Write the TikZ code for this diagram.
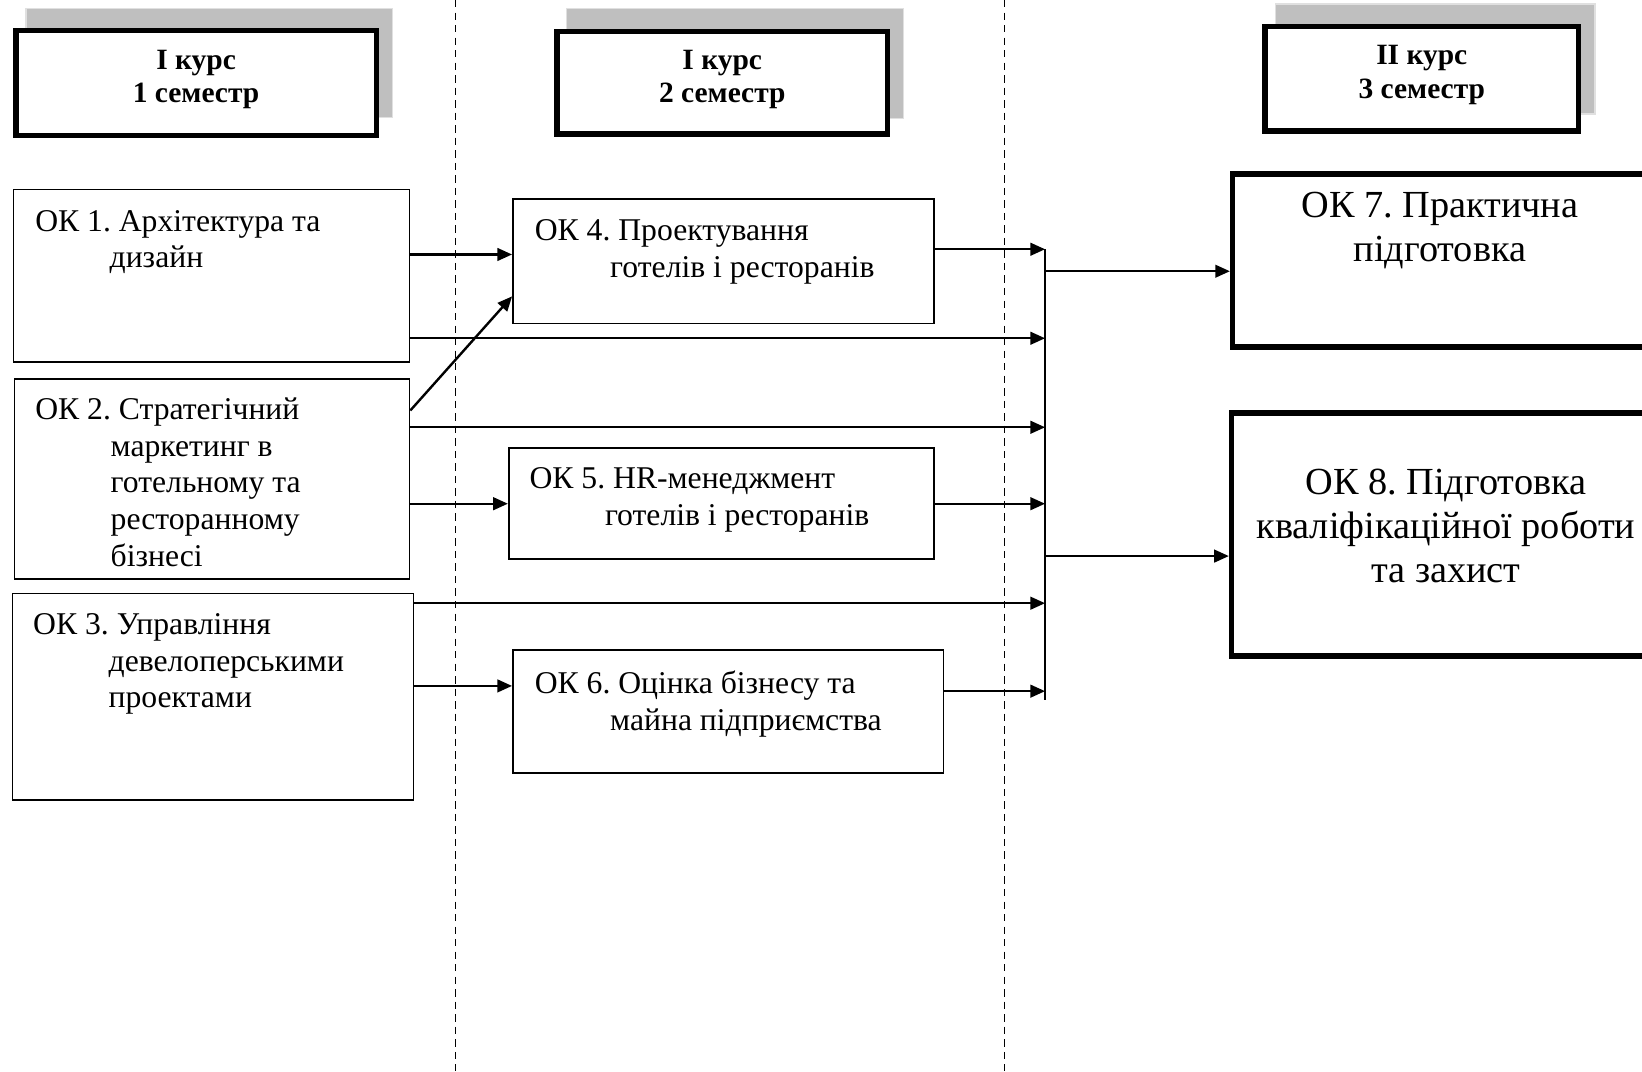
\documentclass[tikz,border=0pt]{standalone}
\usepackage{fontspec}
\setmainfont{Liberation Serif}
\usetikzlibrary{arrows.meta}
\frenchspacing
\begin{document}
\begin{tikzpicture}[x=0.01cm,y=-0.01cm,
  shade/.style={fill=black!25,draw=black!12,line width=0.4pt},
  head/.style={draw,line width=1.5pt,fill=white,inner sep=0pt,anchor=north west,align=center,text depth=3.6pt,font=\fontsize{8}{9.1}\selectfont\bfseries},
  okbox/.style={draw,line width=0.45pt,inner sep=0pt,anchor=north west},
  bigbox/.style={draw,line width=1.5pt,inner sep=0pt,anchor=north west,align=center,text depth=4.6pt,font=\fontsize{10.4}{11.9}\selectfont},
  oktext/.style={anchor=north west,align=left,inner sep=0pt,font=\fontsize{8.6}{10}\selectfont},
  arr/.style={line width=0.65pt,-{Triangle[length=0.14cm,width=0.12cm]}},
  sep/.style={line width=0.35pt,dash pattern=on 2pt off 1.4pt}]
\clip (0,0) rectangle (1568,1023);
\fill[white] (0,0) rectangle (1568,1023);
\draw[sep] (435,0) -- (435,1023);
\draw[sep] (959,0) -- (959,1023);
\draw[shade] (25,8) rectangle (375,112);
\draw[shade] (541,8) rectangle (863,113);
\draw[shade] (1218,4) rectangle (1523,109);
\node[head,minimum width=3.44cm,minimum height=1.0cm] (h1) at (12.5,26.5) {І курс\\1 семестр};
\node[head,minimum width=3.15cm,minimum height=0.98cm] (h2) at (529.5,27.5) {І курс\\2 семестр};
\node[head,minimum width=2.99cm,minimum height=1.0cm] (h3) at (1205.5,22.5) {ІІ курс\\3 семестр};
\node[okbox,minimum width=3.78cm,minimum height=1.65cm] (ok1) at (12,180) {};
\node[okbox,minimum width=3.77cm,minimum height=1.91cm] (ok2) at (13,361) {};
\node[okbox,minimum width=3.83cm,minimum height=1.97cm] (ok3) at (11,566) {};
\node[okbox,minimum width=4.02cm,minimum height=1.19cm] (ok4) at (489,189) {};
\node[okbox,minimum width=4.06cm,minimum height=1.06cm] (ok5) at (485,427) {};
\node[okbox,minimum width=4.11cm,minimum height=1.17cm] (ok6) at (489,620) {};
\node[oktext] at (33,200) {ОК 1. Архітектура та\\\hspace*{0.71cm}дизайн};
\node[oktext] at (33,379) {ОК 2. Стратегічний\\\hspace*{0.72cm}маркетинг в\\\hspace*{0.72cm}готельному та\\\hspace*{0.72cm}ресторанному\\\hspace*{0.72cm}бізнесі};
\node[oktext] at (31,585) {ОК 3. Управління\\\hspace*{0.72cm}девелоперськими\\\hspace*{0.72cm}проектами};
\node[oktext] at (510,209) {ОК 4. Проектування\\\hspace*{0.72cm}готелів і ресторанів};
\node[oktext] at (505,446) {ОК 5. HR-менеджмент\\\hspace*{0.72cm}готелів і ресторанів};
\node[oktext] at (510,640) {ОК 6. Оцінка бізнесу та\\\hspace*{0.72cm}майна підприємства};
\node[bigbox,minimum width=4.01cm,minimum height=1.65cm] (ok7) at (1174.5,163.5) {};
\node[anchor=north,align=center,inner sep=0pt,font=\fontsize{10.4}{11.9}\selectfont] at (1375,183) {ОК 7. Практична\\підготовка};
\node[bigbox,minimum width=4.09cm,minimum height=2.32cm] (ok8) at (1173.5,391.5) {ОК 8. Підготовка\\кваліфікаційної роботи\\та захист};
\coordinate (ctop) at (998,238);
\coordinate (cbot) at (998,668);
\draw[line width=0.65pt] (ctop) -- (cbot);
\draw[arr] (ok1.east |- 0,243) -- (ok4.west |- 0,243);
\draw[arr] (ok2.east |- 0,392) -- (ok4.west |- 0,283);
\draw[arr] (ok4.east |- 0,238) -- (ctop);
\draw[arr] (ok1.east |- 0,323) -- (ctop |- 0,323);
\draw[arr] (ok2.east |- 0,408) -- (ctop |- 0,408);
\draw[arr] (ok2.east |- 0,481) -- (ok5.west |- 0,481);
\draw[arr] (ok5.east |- 0,481) -- (ctop |- 0,481);
\draw[arr] (ok3.east |- 0,576) -- (ctop |- 0,576);
\draw[arr] (ok3.east |- 0,655) -- (ok6.west |- 0,655);
\draw[arr] (ok6.east |- 0,660) -- (ctop |- 0,660);
\draw[arr] (ctop |- 0,259) -- (ok7.west |- 0,259);
\draw[arr] (ctop |- 0,531) -- (ok8.west |- 0,531);
\end{tikzpicture}
\end{document}
